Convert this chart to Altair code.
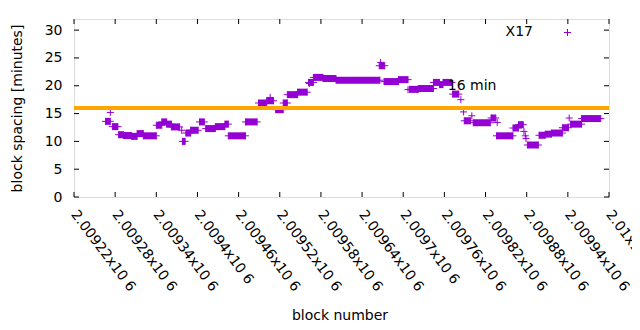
import altair as alt
import pandas as pd

# ---- data ----
seg_start = [2009266, 2009276, 2009285, 2009292, 2009304, 2009312, 2009321, 2009340, 2009348, 2009355,
             2009362, 2009378, 2009383, 2009390, 2009403, 2009412, 2009426, 2009440, 2009445, 2009470,
             2009489, 2009501, 2009514, 2009525, 2009531, 2009546, 2009562, 2009569, 2009583, 2009602,
             2009665, 2009672, 2009693, 2009709, 2009722, 2009744, 2009753, 2009758, 2009772, 2009789,
             2009802, 2009828, 2009836, 2009860, 2009868, 2009881, 2009898, 2009907, 2009916, 2009932,
             2009944, 2009960]
seg_end = [2009273, 2009284, 2009292, 2009304, 2009312, 2009321, 2009340, 2009348, 2009355, 2009362,
           2009374, 2009382, 2009390, 2009401, 2009410, 2009426, 2009440, 2009445, 2009470, 2009487,
           2009501, 2009511, 2009525, 2009531, 2009546, 2009560, 2009569, 2009583, 2009602, 2009666,
           2009673, 2009693, 2009707, 2009722, 2009744, 2009753, 2009758, 2009771, 2009781, 2009798,
           2009827, 2009835, 2009860, 2009868, 2009875, 2009897, 2009907, 2009916, 2009932, 2009941,
           2009960, 2009988]
seg_value = [13.6, 12.65, 11.2, 11.05, 10.9, 11.4, 11.0, 12.9, 13.5, 13.1,
             12.6, 10.0, 11.5, 12.0, 13.5, 12.3, 12.65, 13.1, 11.0, 13.5,
             16.9, 17.3, 15.7, 16.9, 18.4, 18.85, 20.6, 21.5, 21.3, 21.0,
             23.6, 20.75, 21.1, 19.35, 19.5, 20.6, 20.2, 20.6, 18.5, 13.7,
             13.35, 14.2, 11.0, 12.4, 13.0, 9.35, 11.1, 11.3, 11.5, 12.45,
             13.1, 14.1]

single_block = [2009273, 2009377, 2009506, 2009563, 2009667, 2009707, 2009784, 2009788,
                2009800, 2009837, 2009876, 2009878, 2009879, 2009942]
single_value = [15.2, 12.0, 17.9, 20.4, 24.2, 19.3, 17.5, 15.3,
                14.6, 13.4, 11.8, 11.0, 10.5, 14.2]

threshold = [16]
threshold_label = ["16 min"]
label_block = [2009765]
label_value = [19.95]

series_name = ["X17"]

xtick_values = [2009220, 2009280, 2009340, 2009400, 2009460, 2009520, 2009580,
                2009640, 2009700, 2009760, 2009820, 2009880, 2009940, 2010000]
xtick_labels = ["2.00922x10 6", "2.00928x10 6", "2.00934x10 6", "2.0094x10 6", "2.00946x10 6",
                "2.00952x10 6", "2.00958x10 6", "2.00964x10 6", "2.0097x10 6", "2.00976x10 6",
                "2.00982x10 6", "2.00988x10 6", "2.00994x10 6", "2.01x10 6"]
ytick_values = [0, 5, 10, 15, 20, 25, 30]

# ---- styling ----
W, H = 535, 178
PURPLE = "#9400D3"
ORANGE = "#FFA500"
FONT = "DejaVu Sans"
PLUS = "M-1,0H1M0,-1V1"

xscale = alt.Scale(domain=[2009220, 2010000], nice=False, zero=False)
yscale = alt.Scale(domain=[0, 32], nice=False, zero=True)

label_expr = "[" + ",".join("'%s'" % s for s in xtick_labels) + "][indexof([" + \
    ",".join(str(v) for v in xtick_values) + "], datum.value)]"

xaxis = alt.Axis(values=xtick_values, labelExpr=label_expr, labelAngle=53,
                 labelAlign="left", labelBaseline="alphabetic", labelPadding=17,
                 labelOffset=-4,
                 labelFont=FONT, labelFontSize=14, labelColor="#000000",
                 ticks=False, domain=False, grid=False, labelOverlap=False,
                 labelBound=False, labelFlush=False,
                 title="block number", titleFont=FONT, titleFontSize=14,
                 titleFontWeight="normal", titleColor="#000000",
                 titleX=W / 2 - 2, titleY=118, titleBaseline="middle", titleAlign="center")
yaxis = alt.Axis(values=ytick_values, labelPadding=12, labelFont=FONT, labelFontSize=14,
                 labelColor="#000000", ticks=False, domain=False, grid=False,
                 title="block spacing [minutes]", titleFont=FONT, titleFontSize=14,
                 titleFontWeight="normal", titleColor="#000000",
                 titleX=-57, titleY=H / 2, titleAngle=-90, titleAlign="center",
                 titleBaseline="middle")


def X(field="x"):
    return alt.X(field + ":Q", scale=xscale, axis=xaxis)


def Y(field="y"):
    return alt.Y(field + ":Q", scale=yscale, axis=yaxis)


segs = pd.DataFrame({"x": seg_start, "x2": seg_end, "y": seg_value})
pts = pd.DataFrame({"x": seg_start + seg_end + single_block,
                    "y": seg_value + seg_value + single_value})

bars = alt.Chart(segs).mark_rule(color=PURPLE, strokeWidth=7, strokeCap="butt").encode(
    x=X(), x2="x2:Q", y=Y())

crosses = alt.Chart(pts).mark_point(shape=PLUS, size=49, filled=False, strokeWidth=1,
                                    color=PURPLE, opacity=1).encode(x=X(), y=Y())

line = alt.Chart(pd.DataFrame({"y": threshold})).mark_rule(color=ORANGE, strokeWidth=4).encode(
    y=Y())

label = alt.Chart(pd.DataFrame({"x": label_block, "y": label_value, "t": threshold_label})).mark_text(
    align="left", baseline="middle", font=FONT, fontSize=14, color="#000000"
).encode(x=X(), y=Y(), text="t:N")

# inward ticks on all four sides
xt = pd.DataFrame({"x": xtick_values})
yt = pd.DataFrame({"y": ytick_values})
tick_bottom = alt.Chart(xt).mark_rule(color="#000000", strokeWidth=1).encode(
    x=X(), y=alt.value(H), y2=alt.value(H - 5))
tick_top = alt.Chart(xt).mark_rule(color="#000000", strokeWidth=1).encode(
    x=X(), y=alt.value(0), y2=alt.value(5))
tick_left = alt.Chart(yt).mark_rule(color="#000000", strokeWidth=1).encode(
    y=Y(), x=alt.value(0), x2=alt.value(5))
tick_right = alt.Chart(yt).mark_rule(color="#000000", strokeWidth=1).encode(
    y=Y(), x=alt.value(W), x2=alt.value(W - 5))

# key (gnuplot style: label then sample)
key_text = alt.Chart(pd.DataFrame({"t": series_name})).mark_text(
    align="right", baseline="middle", font=FONT, fontSize=14, color="#000000"
).encode(text="t:N", x=alt.value(459), y=alt.value(13))
key_mark = alt.Chart(pd.DataFrame({"t": series_name})).mark_point(
    shape=PLUS, size=49, filled=False, strokeWidth=1, color=PURPLE, opacity=1
).encode(x=alt.value(493.5), y=alt.value(13.5))

chart = alt.layer(
    bars, crosses, line, label, tick_bottom, tick_top, tick_left, tick_right, key_text, key_mark
).properties(
    width=W, height=H,
    autosize=alt.AutoSizeParams(type="none"),
    padding={"left": 66, "top": 11, "right": 23, "bottom": 125},
).configure_view(stroke="#000000", strokeWidth=1).configure(background="#ffffff")

chart.save("out.html", embed_options={"renderer": "svg", "actions": False})
